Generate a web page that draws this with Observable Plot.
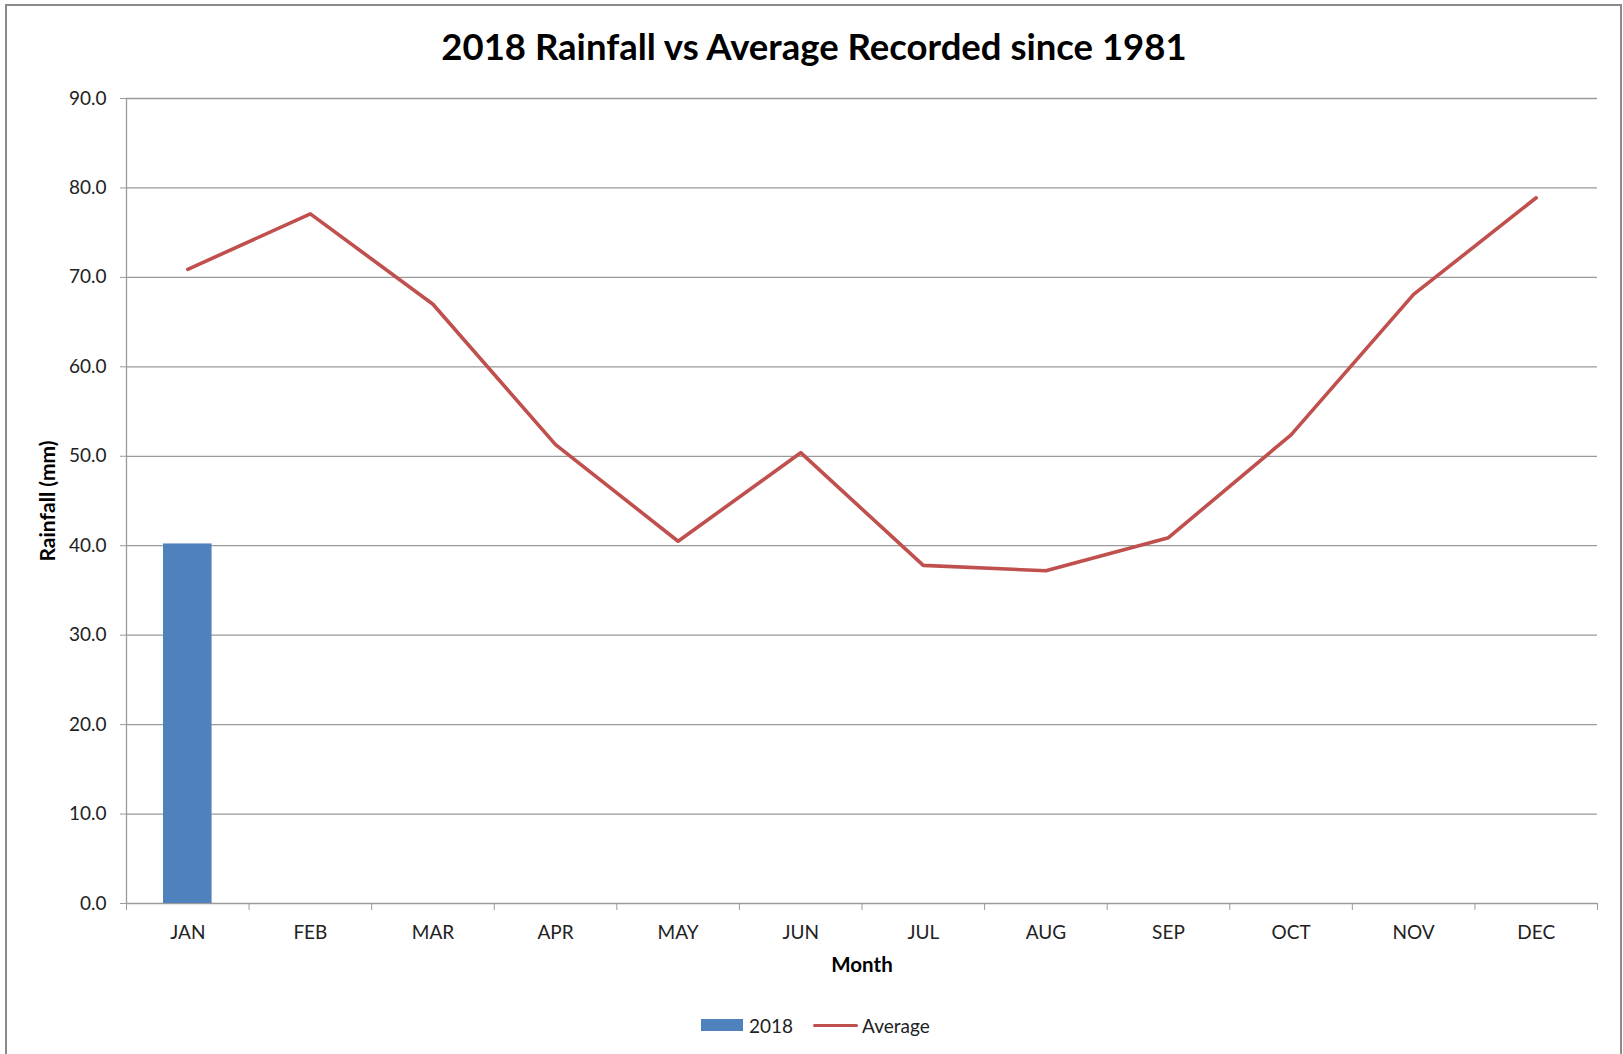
<!DOCTYPE html>
<html>
<head>
<meta charset="utf-8">
<script src="https://cdn.jsdelivr.net/npm/d3@7"></script>
<script src="https://cdn.jsdelivr.net/npm/@observablehq/plot@0.6"></script>
<style>
  html, body { margin: 0; padding: 0; background: #fff; }
  body { width: 1623px; height: 1054px; overflow: hidden; position: relative; font-family: Lato, "Open Sans", sans-serif; }
  #frame { position: absolute; left: 5px; top: 4px; width: 1617px; height: 1100px; border: 2px solid #8a8a8a; box-sizing: border-box; }
  #title { position: absolute; left: 5px; top: 28px; width: 1618px; text-align: center; font-weight: 700; font-size: 36.5px; line-height: 36px; color: #000; white-space: nowrap; }
  #chart { position: absolute; left: 0; top: 70px; }
  #legend { position: absolute; left: 701px; top: 1013px; height: 24px; display: flex; align-items: center; font-size: 19px; color: #222; }
  #legend .sw { display: inline-block; width: 42px; height: 12px; background: #4F81BD; }
  #legend .ln { display: inline-block; width: 45px; height: 3px; background: #C0504D; border-radius: 2px; }
</style>
</head>
<body>
<div id="frame"></div>
<div id="title">2018 Rainfall vs Average Recorded since 1981</div>
<div id="chart"></div>
<div id="legend"><span class="sw"></span><span style="margin-left:6px">2018</span><span class="ln" style="margin-left:20px"></span><span style="margin-left:4px">Average</span></div>
<script>
// ---- data ----
const months = ["JAN","FEB","MAR","APR","MAY","JUN","JUL","AUG","SEP","OCT","NOV","DEC"];
const rain2018Months = ["JAN"];
const rain2018 = [40.2];
const average = [70.9, 77.1, 67.0, 51.3, 40.5, 50.4, 37.8, 37.2, 40.9, 52.4, 68.1, 78.9];
const yTicks = [0, 10, 20, 30, 40, 50, 60, 70, 80, 90];
const xLabel = "Month";
const yLabel = "Rainfall (mm)";

// ---- layout ----
const W = 1623, H = 910, ML = 126, MR = 26, MT = 28, MB = 77;
const bw = (W - ML - MR) / months.length;
const gridColor = "#9a9a9a";

const barData = rain2018Months.map((m, i) => ({month: m, value: rain2018[i]}));
const lineData = months.map((m, i) => ({month: m, value: average[i]}));

const chart = Plot.plot({
  width: W, height: H,
  marginLeft: ML, marginRight: MR, marginTop: MT, marginBottom: MB,
  style: {fontFamily: "Lato, 'Open Sans', sans-serif", fontSize: "19px", color: "#222", background: "transparent", overflow: "visible"},
  x: {type: "band", domain: months, padding: 0, round: false, label: null},
  y: {domain: [yTicks[0], yTicks[yTicks.length - 1]], label: null},
  marks: [
    Plot.gridY(yTicks, {stroke: gridColor, strokeOpacity: 1, strokeWidth: 1.3}),
    Plot.ruleX([months[0]], {dx: -bw / 2, stroke: gridColor, strokeWidth: 1.3}),
    Plot.axisY(yTicks, {tickSize: 6, tickPadding: 14, tickFormat: d => d.toFixed(1), stroke: gridColor, fill: "#222", label: null}),
    Plot.axisX(months, {tickSize: 7, dx: -bw / 2, tickFormat: () => "", stroke: gridColor, label: null}),
    Plot.axisX([months[months.length - 1]], {tickSize: 7, dx: bw / 2, tickFormat: () => "", stroke: gridColor, label: null}),
    Plot.axisX(months, {tickSize: 0, tickPadding: 22, fill: "#222", label: null}),
    Plot.barY(barData, {x: "month", y: "value", fill: "#4F81BD", insetLeft: 37, insetRight: 37}),
    Plot.line(lineData, {x: "month", y: "value", stroke: "#C0504D", strokeWidth: 3.6, strokeLinejoin: "round", strokeLinecap: "round"}),
    Plot.text([xLabel], {frameAnchor: "bottom", dy: 68, fontWeight: "bold", fontSize: 20.5, fill: "#000", text: d => d}),
    Plot.text([yLabel], {frameAnchor: "left", dx: -78, rotate: -90, textAnchor: "middle", fontWeight: "bold", fontSize: 21, fill: "#000", text: d => d})
  ]
});
document.getElementById("chart").appendChild(chart);
</script>
</body>
</html>
